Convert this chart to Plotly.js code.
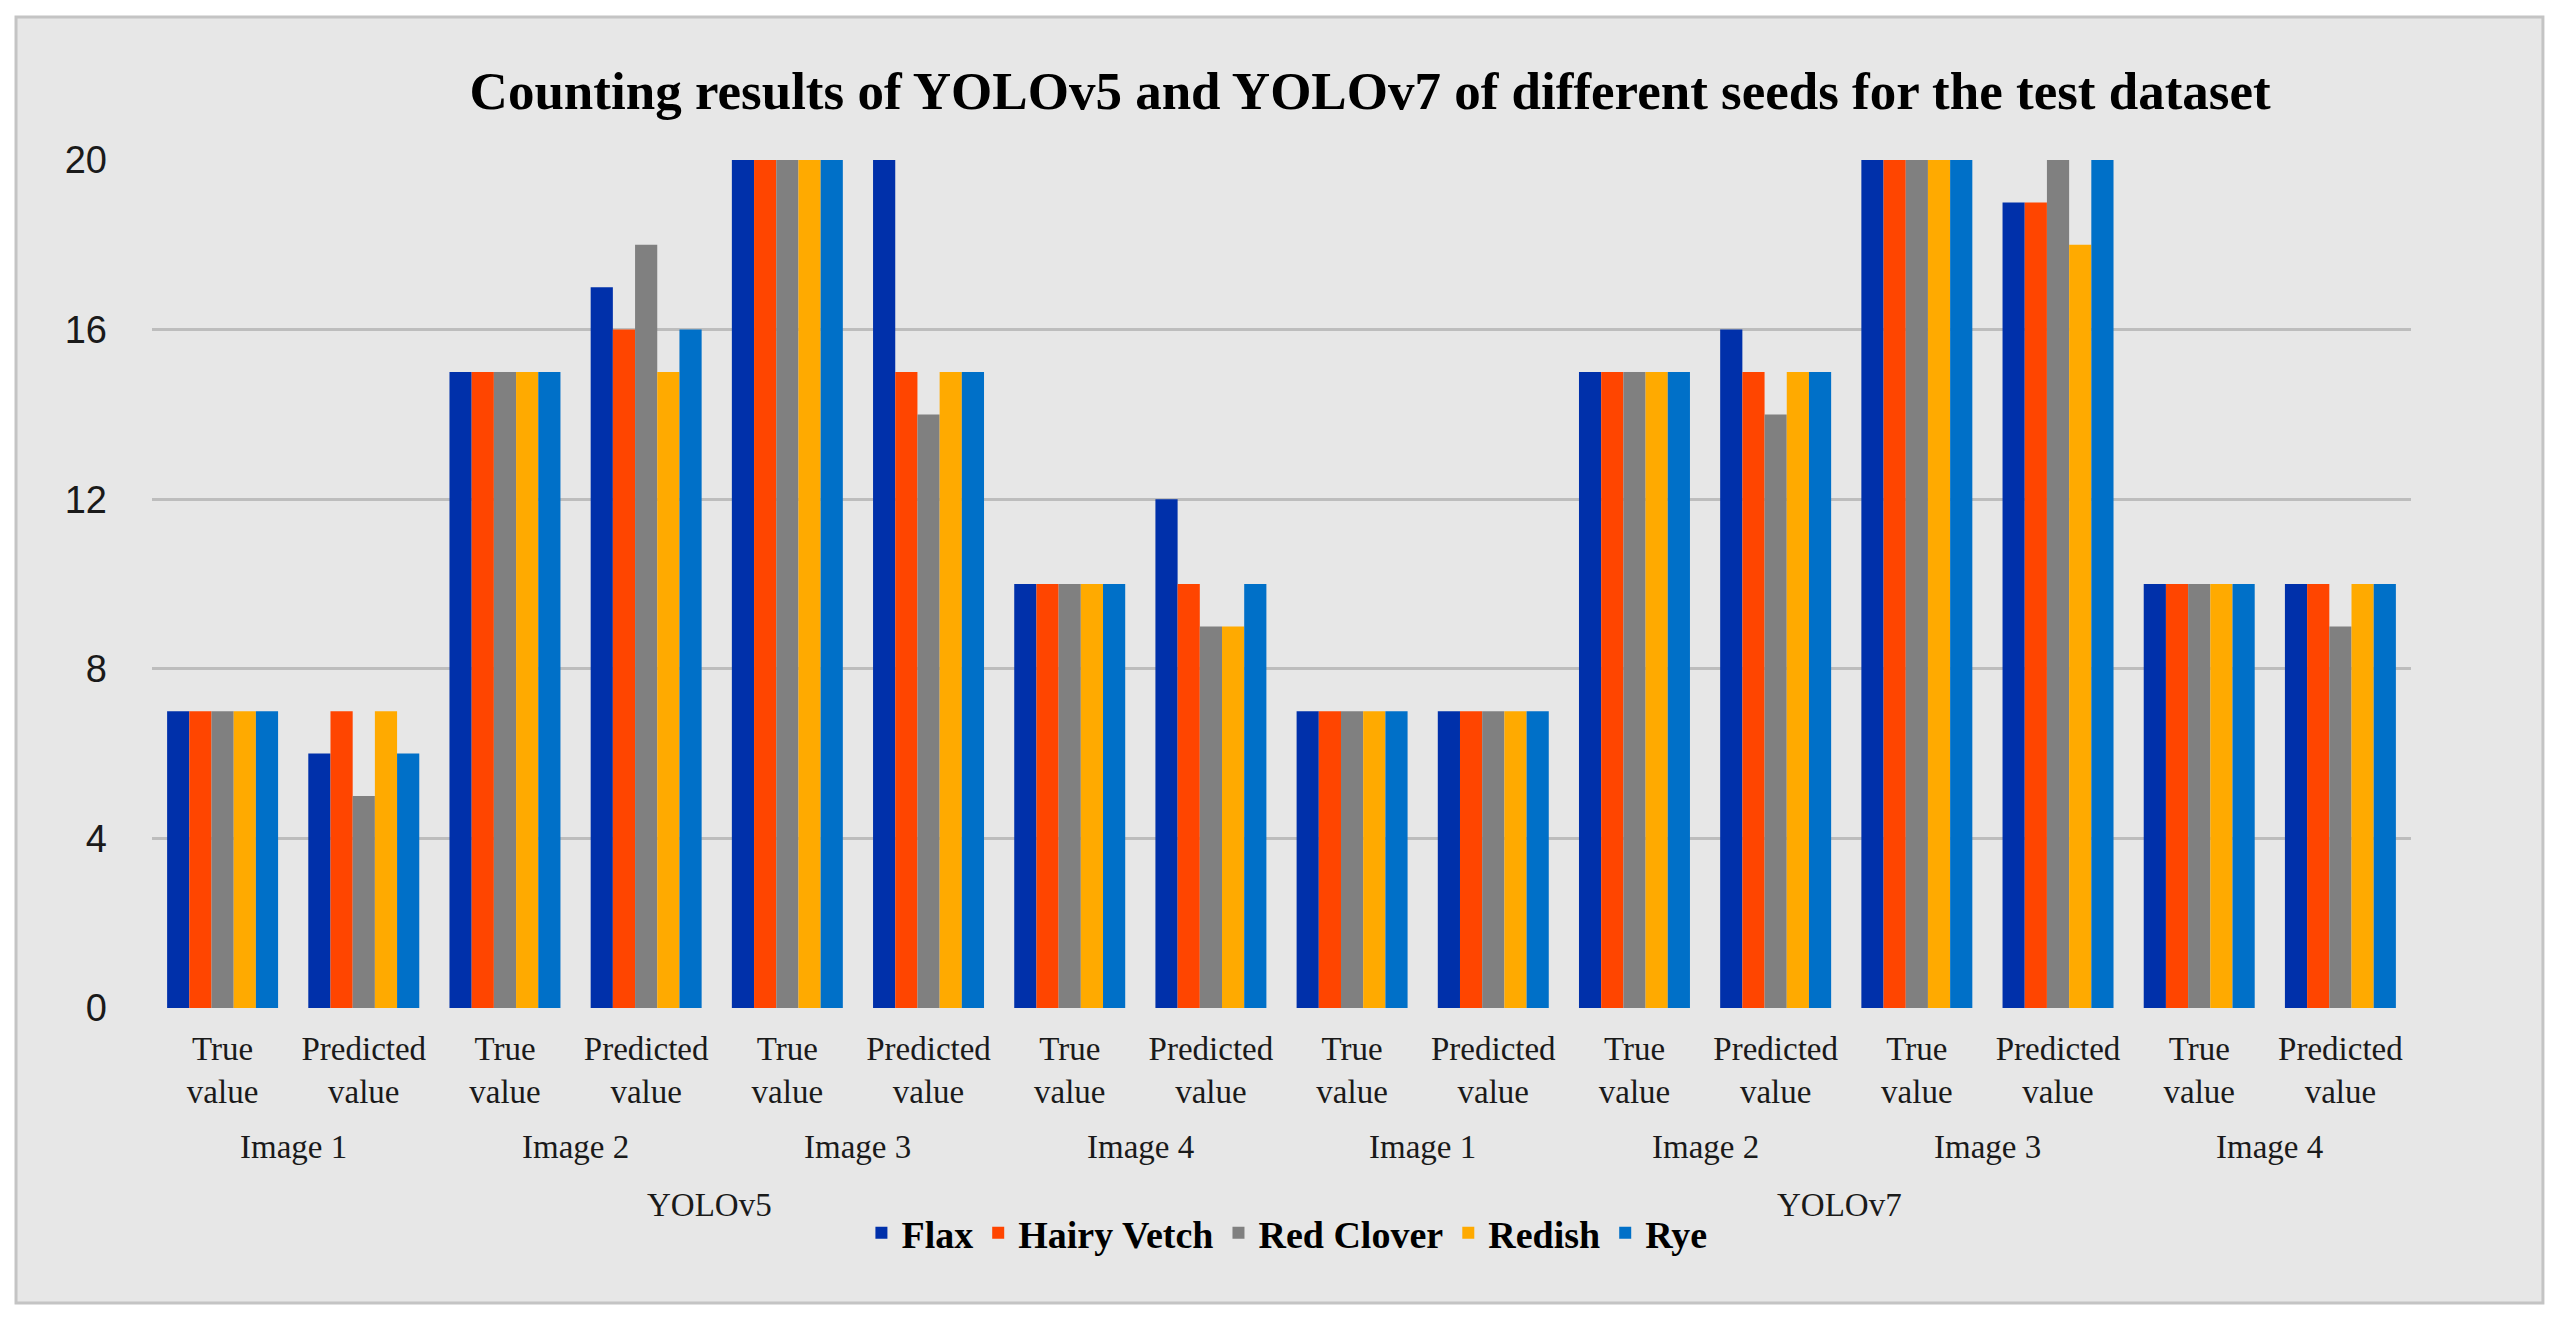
<!DOCTYPE html>
<html>
<head>
<meta charset="utf-8">
<script src="https://cdn.plot.ly/plotly-3.0.1.min.js"></script>
<style>
  html, body { margin: 0; padding: 0; background: #ffffff; }
  #chart { width: 2560px; height: 1320px; }
</style>
</head>
<body>
<div id="chart"></div>
<script>
// chart data
var models = ['YOLOv5', 'YOLOv7'];
var images = ['Image 1', 'Image 2', 'Image 3', 'Image 4'];
var kinds = ['True value', 'Predicted value'];
var kindText = ['True<br>value', 'Predicted<br>value'];
var seeds = ['Flax', 'Hairy Vetch', 'Red Clover', 'Redish', 'Rye'];
var colors = ['#0030aa', '#ff4500', '#808080', '#ffaa00', '#0070c8'];

// order: YOLOv5 (Image1 true, pred, Image2 true, pred, ...), then YOLOv7
var flax       = [7, 6, 15, 17, 20, 20, 10, 12, 7, 7, 15, 16, 20, 19, 10, 10];
var hairyVetch = [7, 7, 15, 16, 20, 15, 10, 10, 7, 7, 15, 15, 20, 19, 10, 10];
var redClover  = [7, 5, 15, 18, 20, 14, 10, 9, 7, 7, 15, 14, 20, 20, 10, 9];
var redish     = [7, 7, 15, 15, 20, 15, 10, 9, 7, 7, 15, 15, 20, 18, 10, 10];
var rye        = [7, 6, 15, 16, 20, 15, 10, 10, 7, 7, 15, 15, 20, 20, 10, 10];
var series = [flax, hairyVetch, redClover, redish, rye];

// category ids and their labels
var cats = [];
var catText = [];
for (var m of models) {
    for (var im of images) {
        for (var k = 0; k < kinds.length; k++) {
            cats.push(m + ' ' + im + ' ' + kinds[k]);
            catText.push(kindText[k]);
        }
    }
}

var data = [];
for (var i = 0; i < seeds.length; i++) {
    data.push({
        type: 'bar',
        name: seeds[i],
        x: cats,
        y: series[i],
        marker: { color: colors[i], line: { width: 0 } }
    });
}

var serif = 'Liberation Serif, Times New Roman, serif';
var annotations = [];
// image labels under each pair of bars
var per = kinds.length;
for (var mi = 0; mi < models.length; mi++) {
    for (var ii = 0; ii < images.length; ii++) {
        var pos = (mi * images.length + ii) * per + (per - 1) / 2;
        annotations.push({
            text: images[ii], x: pos, xref: 'x', y: -0.164, yref: 'paper',
            xanchor: 'center', yanchor: 'middle', showarrow: false,
            font: { family: serif, size: 33, color: '#1a1a1a' }
        });
    }
    var mpos = mi * images.length * per + (images.length * per - 1) / 2;
    annotations.push({
        text: models[mi], x: mpos - 0.05, xref: 'x', y: -0.232, yref: 'paper',
        xanchor: 'center', yanchor: 'middle', showarrow: false,
        font: { family: serif, size: 33, color: '#1a1a1a' }
    });
}

var layout = {
    width: 2560,
    height: 1320,
    margin: { l: 152, r: 149, t: 160, b: 312 },
    paper_bgcolor: '#ffffff',
    plot_bgcolor: 'rgba(0,0,0,0)',
    barmode: 'group',
    bargap: 0.214,
    bargroupgap: 0,
    title: {
        text: 'Counting results of YOLOv5 and YOLOv7 of different seeds for the test dataset',
        x: 0.5352, xanchor: 'center', xref: 'container',
        y: 0.9318, yanchor: 'middle', yref: 'container',
        font: { family: serif, size: 53, color: '#000000', weight: 'bold' }
    },
    xaxis: {
        type: 'category',
        tickmode: 'array',
        tickvals: cats,
        ticktext: catText,
        showgrid: false,
        zeroline: false,
        showline: false,
        ticks: '',
        ticklabelstandoff: 18,
        tickfont: { family: serif, size: 33, color: '#1a1a1a' }
    },
    yaxis: {
        range: [0, 20],
        dtick: 4,
        tick0: 0,
        showgrid: true,
        gridcolor: '#bdbdbd',
        gridwidth: 3,
        zeroline: false,
        showline: false,
        ticks: '',
        ticklabelstandoff: 44,
        tickfont: { family: 'Liberation Sans, Arial, sans-serif', size: 38, color: '#1a1a1a' }
    },
    legend: {
        orientation: 'h',
        x: 0.5024, xanchor: 'center',
        y: -0.2653, yanchor: 'middle',
        bgcolor: 'rgba(0,0,0,0)',
        itemwidth: 30,
        font: { family: serif, size: 38, color: '#000000', weight: 'bold' }
    },
    shapes: [{
        type: 'rect', layer: 'below',
        xref: 'paper', yref: 'paper',
        x0: -0.0602, x1: 1.0584, y0: -0.3479, y1: 1.1686,
        fillcolor: '#e7e7e7',
        line: { color: '#c4c4c4', width: 3 }
    }],
    annotations: annotations
};

Plotly.newPlot('chart', data, layout, { displayModeBar: false, staticPlot: true });
</script>
</body>
</html>
